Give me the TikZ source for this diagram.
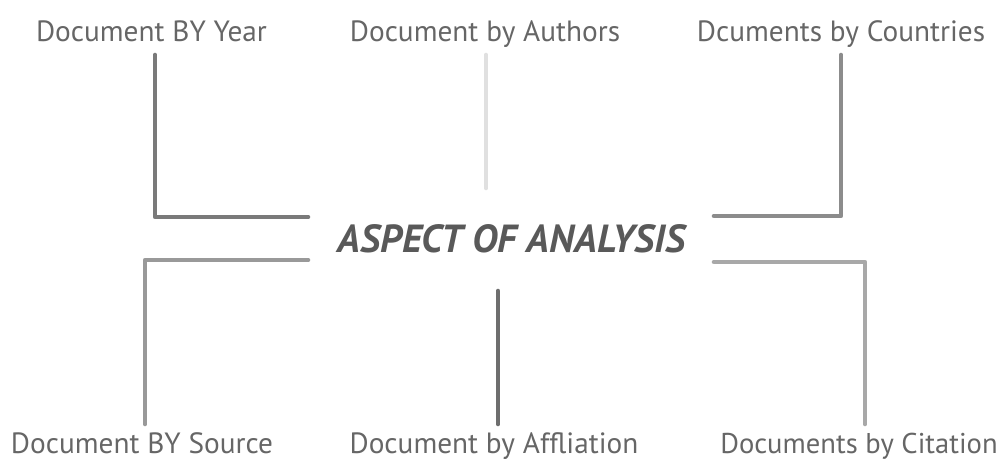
\documentclass[tikz,border=0pt]{standalone}
\usepackage{fontspec}
\setmainfont{PT Sans}
\definecolor{txtgray}{HTML}{666666}
\definecolor{midgray}{HTML}{595959}

\begin{document}
\begin{tikzpicture}[x=1pt,y=-1pt,
  lbl/.style={anchor=base, inner sep=0pt, text=txtgray, font=\fontsize{29.3}{32}\selectfont},
  lblb/.style={lbl, font=\fontsize{29.3}{32}\selectfont},
  arm/.style={line width=4.6pt, line cap=round, line join=round}]

\useasboundingbox (0,0) rectangle (1003,461);

\coordinate (A) at (155,55);
\coordinate (B) at (308,217);
\coordinate (C) at (486,55);
\coordinate (D) at (486,188);
\coordinate (E) at (841,55);
\coordinate (F) at (714,216);
\coordinate (G) at (308,260);
\coordinate (H) at (145,424);
\coordinate (I) at (498,291);
\coordinate (J) at (498,424);
\coordinate (K) at (714,262);
\coordinate (L) at (865,424);

\draw [arm, black!52] (A) |- (B);
\draw [arm, black!12] (C) -- (D);
\draw [arm, black!45] (E) |- (F);
\draw [arm, black!40] (G) -| (H);
\draw [arm, black!57] (I) -- (J);
\draw [arm, black!34] (K) -| (L);

\node [anchor=base, inner sep=0pt, text=midgray, font=\fontsize{39.2}{42}\selectfont\bfseries\itshape] (aspect) at (511.5,252) {ASPECT OF ANALYSIS};
\node [lbl] (year) at (151.5,41) {Document BY Year};
\node [lbl] (authors) at (485,41) {Document by Authors};
\node [lbl] (countries) at (841,41) {Dcuments by Countries};
\node [lblb] (source) at (142,453) {Document BY Source};
\node [lblb] (affil) at (494,453) {Document by Affliation};
\node [lblb, font=\fontsize{28.6}{31}\selectfont] (citation) at (859,453) {Documents by Citation};
\end{tikzpicture}
\end{document}
